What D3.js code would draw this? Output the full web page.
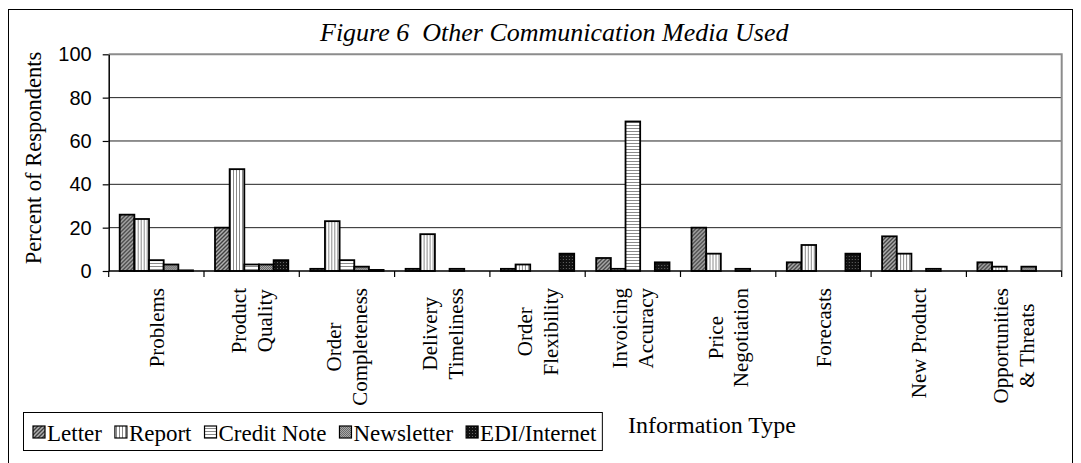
<!DOCTYPE html>
<html>
<head>
<meta charset="utf-8">
<script src="https://cdn.jsdelivr.net/npm/d3@7"></script>
<style>
  body { margin: 0; background: #fff; }
  text { fill: #000; }
</style>
</head>
<body>
<div id="chart"></div>
<script>
// Data
const categories = [
  ["Problems"],
  ["Product", "Quality"],
  ["Order", "Completeness"],
  ["Delivery", "Timeliness"],
  ["Order", "Flexibility"],
  ["Invoicing", "Accuracy"],
  ["Price", "Negotiation"],
  ["Forecasts"],
  ["New Product"],
  ["Opportunities", "& Threats"]
];
const seriesNames = ["Letter", "Report", "Credit Note", "Newsletter", "EDI/Internet"];
const letter      = [26, 20, 1, 1, 1, 6, 20, 4, 16, 4];
const report      = [24, 47, 23, 17, 3, 1, 8, 12, 8, 2];
const creditNote  = [5, 3, 5, 0, 0, 69, 0, 0, 0, 0];
const newsletter  = [3, 3, 2, 1, 0, 0, 1, 0, 1, 2];
const ediInternet = [0.3, 5, 0.5, 0, 8, 4, 0, 8, 0, 0];
const yTicks = [0, 20, 40, 60, 80, 100];

const seriesValues = [letter, report, creditNote, newsletter, ediInternet];
const catKeys = categories.map(c => c.join(" "));

const W = 1081, H = 463;
const plot = {left: 108.7, right: 1061.7, top: 54.3, bottom: 271};
const serif = "'Times New Roman', 'Liberation Serif', serif";

const svg = d3.select("#chart").append("svg")
    .attr("width", W)
    .attr("height", H);

// Fill patterns for the five series
const defs = svg.append("defs");
function pattern(id, size, draw) {
  const p = defs.append("pattern")
      .attr("id", id)
      .attr("patternUnits", "userSpaceOnUse")
      .attr("width", size).attr("height", size);
  draw(p);
}
pattern("pLetter", 4, p => {
  p.append("rect").attr("width", 4).attr("height", 4).attr("fill", "#b0b0b0");
  p.append("path").attr("d", "M0,4 L4,0 M-1,1 L1,-1 M3,5 L5,3")
      .attr("stroke", "#404040").attr("stroke-width", 1.4);
});
pattern("pReport", 3, p => {
  p.append("rect").attr("width", 3).attr("height", 3).attr("fill", "#fff");
  p.append("rect").attr("x", 2).attr("width", 1).attr("height", 3).attr("fill", "#8a8a8a");
});
pattern("pCredit", 3, p => {
  p.append("rect").attr("width", 3).attr("height", 3).attr("fill", "#fff");
  p.append("rect").attr("y", 2).attr("width", 3).attr("height", 1).attr("fill", "#8a8a8a");
});
pattern("pNews", 2, p => {
  p.append("rect").attr("width", 2).attr("height", 2).attr("fill", "#a8a8a8");
  p.append("rect").attr("width", 1).attr("height", 1).attr("fill", "#6a6a6a");
  p.append("rect").attr("x", 1).attr("y", 1).attr("width", 1).attr("height", 1).attr("fill", "#6a6a6a");
});
pattern("pEdi", 3, p => {
  p.append("rect").attr("width", 3).attr("height", 3).attr("fill", "#111");
  p.append("rect").attr("x", 1).attr("y", 1).attr("width", 1).attr("height", 1).attr("fill", "#666");
});
const fills = ["url(#pLetter)", "url(#pReport)", "url(#pCredit)", "url(#pNews)", "url(#pEdi)"];

// Outer chart border
svg.append("rect")
    .attr("x", 8.5).attr("y", 9.5)
    .attr("width", 1064).attr("height", 480)
    .attr("fill", "none").attr("stroke", "#000").attr("stroke-width", 1);

// Scales
const y = d3.scaleLinear().domain([0, 100]).range([plot.bottom, plot.top]);
const x0 = d3.scaleBand().domain(catKeys).range([plot.left, plot.right]).paddingInner(0).paddingOuter(0);
const step = x0.bandwidth();
const x1 = d3.scaleBand().domain(seriesNames)
    .range([step * 0.75 / 6.5, step * 5.75 / 6.5]).padding(0);

// Gridlines
svg.append("g")
  .selectAll("line")
  .data(yTicks.filter(t => t > 0 && t < 100))
  .join("line")
    .attr("x1", plot.left).attr("x2", plot.right)
    .attr("y1", d => y(d)).attr("y2", d => y(d))
    .attr("stroke", "#222").attr("stroke-width", 1);

// Plot area border (grey, top and right)
svg.append("path")
    .attr("d", `M${plot.left},${plot.top}H${plot.right}V${plot.bottom}`)
    .attr("fill", "none").attr("stroke", "#8c8c8c").attr("stroke-width", 2);

// Bars
const groups = svg.append("g")
  .selectAll("g")
  .data(catKeys)
  .join("g")
    .attr("transform", d => `translate(${x0(d)},0)`);

groups.selectAll("rect")
  .data((d, i) => seriesNames.map((s, j) => ({s, j, v: seriesValues[j][i]})).filter(e => e.v > 0))
  .join("rect")
    .attr("x", d => x1(d.s))
    .attr("width", x1.bandwidth())
    .attr("y", d => y(d.v))
    .attr("height", d => y(0) - y(d.v))
    .attr("fill", d => fills[d.j])
    .attr("stroke", "#000")
    .attr("stroke-width", 1.8);

// Y axis
const yAxis = svg.append("g")
    .attr("transform", `translate(${plot.left},0)`)
    .call(d3.axisLeft(y).tickValues(yTicks).tickSize(6).tickPadding(11).tickSizeOuter(0));
yAxis.select(".domain").attr("stroke", "#000").attr("stroke-width", 1.5);
yAxis.selectAll(".tick line").attr("stroke", "#000").attr("stroke-width", 1.2);
yAxis.selectAll(".tick text")
    .attr("font-family", "Arial, 'Liberation Sans', sans-serif")
    .attr("font-size", 20)
    .attr("fill", "#000");

// X axis line and category boundary ticks
svg.append("line")
    .attr("x1", plot.left).attr("x2", plot.right)
    .attr("y1", plot.bottom).attr("y2", plot.bottom)
    .attr("stroke", "#000").attr("stroke-width", 1.5);
svg.append("g")
  .selectAll("line")
  .data(catKeys.map(k => x0(k)).concat([plot.right]))
  .join("line")
    .attr("x1", d => d).attr("x2", d => d)
    .attr("y1", plot.bottom).attr("y2", plot.bottom + 6)
    .attr("stroke", "#000").attr("stroke-width", 1.2);

// Category labels (rotated, lines centred in a block that hangs from the axis)
const labelTop = 288;
const lineH = 26;
const labels = svg.append("g")
  .selectAll("g")
  .data(categories)
  .join("g");
labels.each(function(lines, i) {
  const g = d3.select(this);
  const t = g.append("text")
      .attr("font-family", serif)
      .attr("font-size", 21)
      .attr("text-anchor", "middle");
  lines.forEach((ln, k) => {
    t.append("tspan")
        .attr("x", 0)
        .attr("y", (k - (lines.length - 1) / 2) * lineH)
        .attr("dy", "0.35em")
        .text(ln);
  });
  const maxW = d3.max(t.selectAll("tspan").nodes(), n => n.getComputedTextLength());
  const cx = x0(catKeys[i]) + step / 2;
  g.attr("transform", `translate(${cx},${labelTop + maxW / 2}) rotate(-90)`);
});

// Y axis title
svg.append("text")
    .attr("transform", `translate(41,158) rotate(-90)`)
    .attr("text-anchor", "middle")
    .attr("font-family", serif)
    .attr("font-size", 22.5)
    .text("Percent of Respondents");

// Chart title
svg.append("text")
    .attr("x", 320).attr("y", 41)
    .attr("font-family", serif)
    .attr("font-style", "italic")
    .attr("font-size", 26)
    .style("white-space", "pre")
    .text("Figure 6  Other Communication Media Used");

// X axis title
svg.append("text")
    .attr("x", 628).attr("y", 433)
    .attr("font-family", serif)
    .attr("font-size", 24)
    .text("Information Type");

// Legend
const legend = svg.append("g");
const legendBox = legend.append("rect")
    .attr("x", 23.5).attr("y", 412.5)
    .attr("height", 38)
    .attr("fill", "#fff").attr("stroke", "#000").attr("stroke-width", 1);
let lx = 33;
seriesNames.forEach((name, j) => {
  legend.append("rect")
      .attr("x", lx).attr("y", 426)
      .attr("width", 12).attr("height", 12)
      .attr("fill", fills[j]).attr("stroke", "#000").attr("stroke-width", 1.2);
  const t = legend.append("text")
      .attr("x", lx + 14).attr("y", 441)
      .attr("font-family", serif)
      .attr("font-size", 23)
      .text(name);
  lx += 14 + t.node().getComputedTextLength() + 13;
});
legendBox.attr("width", lx - 23.5 - 7);
</script>
</body>
</html>
